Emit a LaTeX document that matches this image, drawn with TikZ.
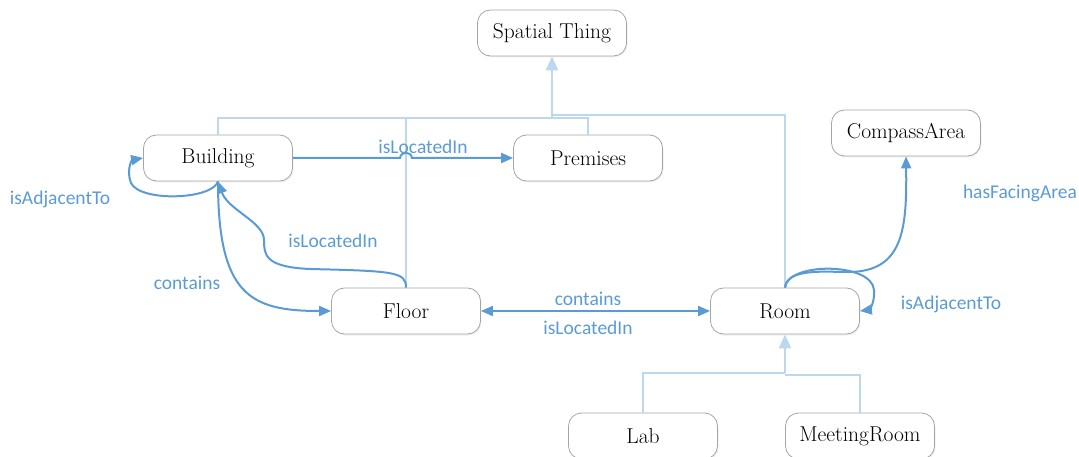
\documentclass[tikz,border=0pt]{standalone}
\usepackage{fontspec}
\newfontfamily\labelfont{Carlito}
\usetikzlibrary{arrows.meta,shadows}
\definecolor{relblue}{HTML}{5B9BD5}
\definecolor{isablue}{HTML}{BDD7EE}
\definecolor{boxgray}{HTML}{A6A6A6}
\begin{document}
\begin{tikzpicture}[x=1pt,y=-1pt,
  cls/.style={draw=boxgray, line width=0.8pt, rounded corners=13pt, fill=white,
    minimum width=149pt, minimum height=46pt, inner sep=0pt,
    font=\fontsize{21.5}{25}\selectfont,
    drop shadow={shadow xshift=1pt,shadow yshift=-1.5pt,opacity=0.12}},
  isa/.style={draw=isablue, line width=2pt},
  isatip/.style={isa, -{Triangle[length=14pt,width=12pt]}},
  rel/.style={draw=relblue, line width=2pt, -{Triangle[length=12pt,width=10pt]}},
  rel2/.style={draw=relblue, line width=2pt, {Triangle[length=12pt,width=10pt]}-{Triangle[length=12pt,width=10pt]}},
  lbl/.style={text=relblue, font=\labelfont\fontsize{19.5}{22}\selectfont, inner sep=0pt}]
\useasboundingbox (0,0) rectangle (1079,457);

% nodes
\node[cls] (spatial) at (552,33) {Spatial Thing};
\node[cls] (building) at (218,158) {Building};
\node[cls] (premises) at (588,158) {Premises};
\node[cls] (compass) at (906,133) {CompassArea};
\node[cls] (floor) at (406,311) {Floor};
\node[cls] (room) at (785,311) {Room};
\node[cls] (lab) at (643,436) {Lab};
\node[cls] (meeting) at (860,436) {MeetingRoom};

% inheritance to Spatial Thing
\coordinate (jL) at (552,118);
\coordinate (jR) at (552,115);
\draw[isatip] (jL) -- (spatial.south);
\draw[isa] (building.north) |- (jL);
\draw[isa] (premises.north) |- (jL);
\draw[isa] (floor.north) |- (jL);
\draw[isa] (room.north) |- (jR);

% inheritance to Room
\coordinate (jRoomL) at (785,373);
\coordinate (jRoomR) at (785,375);
\draw[isatip] (jRoomL) -- (room.south);
\draw[isa] (lab.north) |- (jRoomL);
\draw[isa] (meeting.north) |- (jRoomR);

% Building -> Premises with a hop over the Floor line
\coordinate (hopA) at (400,158);
\coordinate (hopB) at (412,158);
\draw[rel] (building.east) -- (hopA) .. controls (401,151) and (411,151) .. (hopB) -- (premises.west);
\node[lbl] (l1) at (423,147) {isLocatedIn};

% Building isAdjacentTo (self)
\draw[rel] (building.south) .. controls (212,200) and (140,202) .. (131,183)
  .. controls (126,170) and (132,160) .. (building.west);
\node[lbl] (l2) at (60,199) {isAdjacentTo};

% Floor isLocatedIn Building
\draw[rel] (floor.north) .. controls (406,272) and (395,271) .. (310,269)
  .. controls (265,267) and (264,255) .. (264,240)
  .. controls (264,222) and (228,210) .. (building.south);
\node[lbl] (l3) at (333,241) {isLocatedIn};

% Building contains Floor
\draw[rel] (building.south) .. controls (218,295) and (250,311) .. (floor.west);
\node[lbl] (l4) at (187,283) {contains};

% Floor <-> Room
\draw[rel2] (floor.east) -- (room.west);
\node[lbl] (l5) at (588,299) {contains};
\node[lbl] (l6) at (588,328) {isLocatedIn};

% Room -> CompassArea
\draw[rel] (room.north) .. controls (787,268) and (825,272) .. (848,272)
  .. controls (903,272) and (907,230) .. (compass.south);
\node[lbl] (l7) at (1020,193) {hasFacingArea};

% Room isAdjacentTo (self)
\draw[rel] (room.north) .. controls (787,262) and (872,262) .. (874,290)
  .. controls (875,305) and (868,310) .. (room.east);
\node[lbl] (l8) at (951,304) {isAdjacentTo};
\end{tikzpicture}
\end{document}
